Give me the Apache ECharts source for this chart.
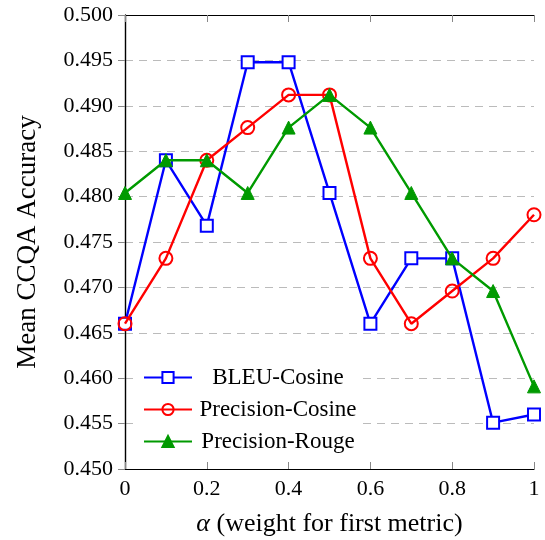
<!DOCTYPE html>
<html>
<head>
<meta charset="utf-8">
<script src="https://cdn.jsdelivr.net/npm/echarts@6/dist/echarts.min.js"></script>
<style>
  html, body { margin: 0; padding: 0; background: #fff; }
  #chart { width: 545px; height: 540px; }
</style>
</head>
<body>
<div id="chart"></div>
<script>
// alpha values on the x axis
const alphas = [0, 0.1, 0.2, 0.3, 0.4, 0.5, 0.6, 0.7, 0.8, 0.9, 1.0]
// mean CCQA accuracy per metric pair
const bleuCosine = [0.4660, 0.4840, 0.4768, 0.4948, 0.4948, 0.4804, 0.4660, 0.4732, 0.4732, 0.4551, 0.4560]
const precisionCosine = [0.4660, 0.4732, 0.4840, 0.4876, 0.4912, 0.4912, 0.4732, 0.4660, 0.4696, 0.4732, 0.4780]
const precisionRouge = [0.4804, 0.4840, 0.4840, 0.4804, 0.4876, 0.4912, 0.4876, 0.4804, 0.4732, 0.4696, 0.4591]

const font = '"Liberation Serif", "DejaVu Serif", serif'
const zip = ys => ys.map((y, i) => [alphas[i], y])

let myChart = echarts.init(document.getElementById('chart'))

// 坐标轴公共样式
const frameLine = { show: true, lineStyle: { color: '#000', width: 1.2 } }
const grayLine = { show: true, lineStyle: { color: '#666', width: 1.4 } }
const tickIn = { show: true, inside: true, length: 7, lineStyle: { color: '#888', width: 1 } }

myChart.setOption({
  animation: false,
  textStyle: { fontFamily: font },
  grid: { left: 125, right: 11, top: 15, bottom: 71, outerBoundsMode: 'none', containLabel: false },
  xAxis: [
    {
      type: 'value', min: 0, max: 1, interval: 0.2,
      axisLine: frameLine, axisTick: tickIn,
      axisLabel: { color: '#000', fontSize: 22, fontFamily: font, margin: 9,
        formatter: v => (v === 0 || v === 1) ? String(v) : v.toFixed(1) },
      splitLine: { show: false },
      name: '{a|α} (weight for first metric)',
      nameLocation: 'middle', nameGap: 42,
      nameTextStyle: { color: '#000', fontSize: 26, fontFamily: font,
        rich: { a: { fontStyle: 'italic', fontSize: 26, fontFamily: font } } }
    },
    {
      type: 'value', position: 'top', min: 0, max: 1, interval: 0.2,
      axisLine: frameLine, axisTick: tickIn,
      axisLabel: { show: false }, splitLine: { show: false }
    }
  ],
  yAxis: [
    {
      type: 'value', min: 0.45, max: 0.5, interval: 0.005,
      axisLine: grayLine, axisTick: { show: false },
      axisLabel: { color: '#000', fontSize: 22, fontFamily: font, margin: 12,
        formatter: v => v.toFixed(3) },
      splitLine: { show: true, lineStyle: { color: '#bbb', type: [8, 6], width: 1.2 } },
      name: 'Mean CCQA Accuracy', nameLocation: 'middle', nameGap: 84,
      nameTextStyle: { color: '#000', fontSize: 27, fontFamily: font }
    },
    {
      type: 'value', position: 'right', min: 0.45, max: 0.5, interval: 0.005,
      axisLine: frameLine, axisTick: tickIn,
      axisLabel: { show: false }, splitLine: { show: false }
    }
  ],
  legend: {
    orient: 'vertical', left: 137, top: 364, itemGap: 9,
    itemWidth: 48, itemHeight: 14, padding: [2, 6, 2, 6],
    backgroundColor: '#fff',
    formatter: '{c|{name}}',
    textStyle: { color: '#000', fontSize: 23, fontFamily: font,
      rich: { c: { width: 162, align: 'center', fontSize: 23, fontFamily: font, color: '#000' } } },
    data: ['BLEU-Cosine', 'Precision-Cosine', 'Precision-Rouge']
  },
  series: [
    {
      name: 'BLEU-Cosine', type: 'line', data: zip(bleuCosine),
      symbol: 'rect', symbolSize: 12,
      itemStyle: { color: '#fff', borderColor: '#0000ff', borderWidth: 2 },
      lineStyle: { color: '#0000ff', width: 2.4 }, z: 3
    },
    {
      name: 'Precision-Cosine', type: 'line', data: zip(precisionCosine),
      symbol: 'circle', symbolSize: 13,
      itemStyle: { color: 'rgba(255,255,255,0)', borderColor: '#ff0000', borderWidth: 2 },
      lineStyle: { color: '#ff0000', width: 2.4 }, z: 4
    },
    {
      name: 'Precision-Rouge', type: 'line', data: zip(precisionRouge),
      symbol: 'triangle', symbolSize: 13,
      itemStyle: { color: '#009a00', borderColor: '#009a00', borderWidth: 1 },
      lineStyle: { color: '#009a00', width: 2.4 }, z: 5
    }
  ]
})
</script>
</body>
</html>
